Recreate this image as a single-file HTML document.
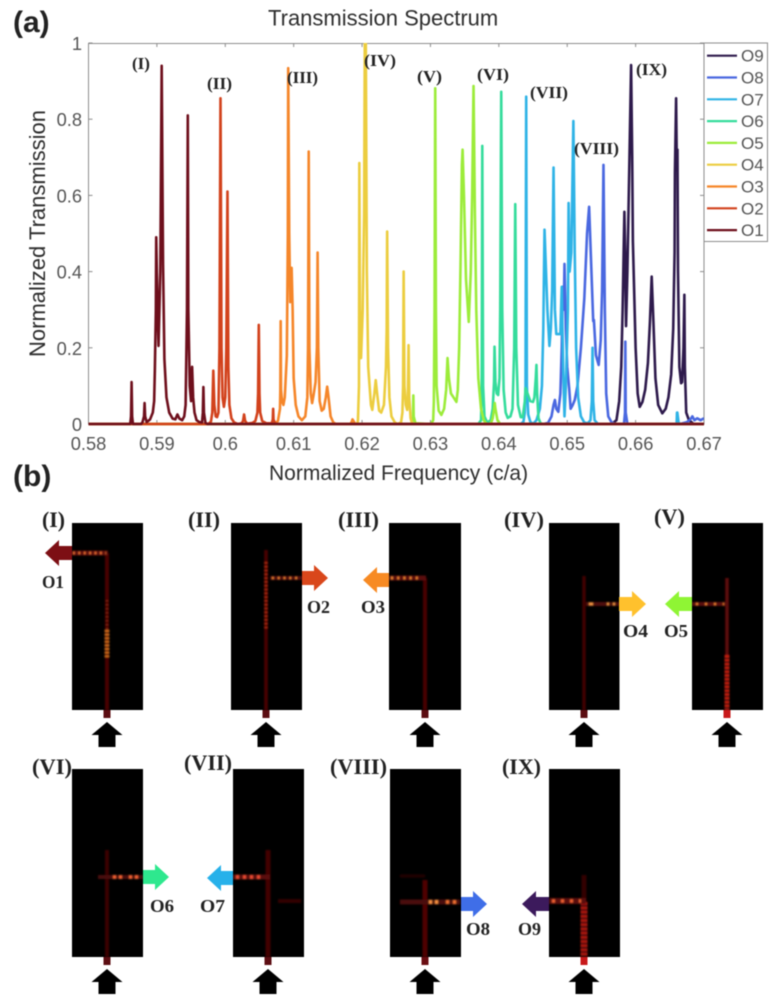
<!DOCTYPE html>
<html lang="en">
<head>
<meta charset="utf-8">
<title>Transmission Spectrum</title>
<style>
  html, body { margin: 0; padding: 0; background: #fff; }
  #figure { display: block; width: 771px; height: 1003px; filter: blur(0.45px); }
  .sans { font-family: "Liberation Sans", sans-serif; fill: #2e2e2e; }
  .tick { font-family: "Liberation Sans", sans-serif; fill: #555; font-size: 18.3px; }
  .serif { font-family: "Liberation Serif", serif; font-weight: bold; fill: #222; }
</style>
</head>
<body>
<svg id="figure" xmlns="http://www.w3.org/2000/svg" width="771" height="1003" viewBox="0 0 771 1003">
  <defs>
    <clipPath id="plot-clip"><rect x="88" y="43" width="616" height="383"/></clipPath>
    <filter id="glow" x="-40%" y="-40%" width="180%" height="180%"><feGaussianBlur stdDeviation="0.9"/></filter>
  </defs>

  <text class="sans" x="13" y="32" font-size="30" font-weight="bold" style="fill:#222">(a)</text>
  <text class="sans" x="268" y="25.5" font-size="22">Transmission Spectrum</text>
  <text class="sans" x="269" y="480" font-size="21">Normalized Frequency (c/a)</text>
  <text class="sans" transform="translate(45,357) rotate(-90)" font-size="22">Normalized Transmission</text>

  <g id="axes"></g>
  <g id="series" clip-path="url(#plot-clip)"></g>
  <g id="legend"></g>

  <g class="serif" font-size="17">
    <text x="132" y="69" textLength="18" lengthAdjust="spacingAndGlyphs">(I)</text>
    <text x="207" y="89" textLength="25" lengthAdjust="spacingAndGlyphs">(II)</text>
    <text x="287" y="83" textLength="31" lengthAdjust="spacingAndGlyphs">(III)</text>
    <text x="364" y="66" textLength="32" lengthAdjust="spacingAndGlyphs">(IV)</text>
    <text x="417" y="82" textLength="25" lengthAdjust="spacingAndGlyphs">(V)</text>
    <text x="477" y="80" textLength="32" lengthAdjust="spacingAndGlyphs">(VI)</text>
    <text x="530" y="98" textLength="38" lengthAdjust="spacingAndGlyphs">(VII)</text>
    <text x="574" y="154" textLength="45" lengthAdjust="spacingAndGlyphs">(VIII)</text>
    <text x="636" y="75" textLength="31" lengthAdjust="spacingAndGlyphs">(IX)</text>
  </g>

  <text class="sans" x="13" y="486" font-size="30" font-weight="bold" style="fill:#222">(b)</text>

  <g>
    <rect x="72" y="523" width="71" height="187" fill="#000"/>
    <g filter="url(#glow)" fill="none">
      <line x1="107" y1="553" x2="107" y2="710" stroke="#4a0505" stroke-width="4"/>
      <line x1="72" y1="553" x2="108" y2="553" stroke="#5a0808" stroke-width="5"/>
      <line x1="73" y1="553" x2="106" y2="553" stroke="#f07030" stroke-width="2.8" stroke-dasharray="1.8 3.6"/>
      <line x1="107" y1="630" x2="107" y2="658" stroke="#d06c1c" stroke-width="5" stroke-dasharray="2 1.6"/>
      <line x1="107" y1="600" x2="107" y2="630" stroke="#7a1a0a" stroke-width="3" stroke-dasharray="1.6 2.4"/>
    </g>
    <rect x="103.5" y="710" width="7" height="8" fill="#5c0d12"/>
  </g>
  <g>
    <rect x="231" y="523" width="71" height="187" fill="#000"/>
    <g filter="url(#glow)" fill="none">
      <line x1="266" y1="550" x2="266" y2="710" stroke="#4a0505" stroke-width="3.6"/>
      <line x1="266" y1="562" x2="266" y2="630" stroke="#a8260f" stroke-width="3.6" stroke-dasharray="1.8 2"/>
      <line x1="270" y1="578" x2="302" y2="578" stroke="#500808" stroke-width="4"/>
      <line x1="272" y1="578" x2="300" y2="578" stroke="#f08030" stroke-width="2.8" stroke-dasharray="1.8 4"/>
    </g>
    <rect x="262.5" y="710" width="7" height="8" fill="#5c0d12"/>
  </g>
  <g>
    <rect x="389" y="523" width="72" height="187" fill="#000"/>
    <g filter="url(#glow)" fill="none">
      <line x1="425" y1="578" x2="425" y2="710" stroke="#4a0505" stroke-width="4"/>
      <line x1="389" y1="578" x2="426" y2="578" stroke="#5a0808" stroke-width="5"/>
      <line x1="391" y1="578" x2="418" y2="578" stroke="#f08030" stroke-width="3" stroke-dasharray="2 4.2"/>
    </g>
    <rect x="421.5" y="710" width="7" height="8" fill="#5c0d12"/>
  </g>
  <g>
    <rect x="549" y="523" width="70.5" height="187" fill="#000"/>
    <g filter="url(#glow)" fill="none">
      <line x1="584" y1="576" x2="584" y2="710" stroke="#420505" stroke-width="3.4"/>
      <line x1="586" y1="604" x2="619" y2="604" stroke="#500808" stroke-width="4"/>
      <line x1="589" y1="604" x2="593" y2="604" stroke="#f09040" stroke-width="3"/>
      <line x1="607" y1="604" x2="617" y2="604" stroke="#f09040" stroke-width="3" stroke-dasharray="2 4"/>
    </g>
    <rect x="580.5" y="710" width="7" height="8" fill="#5c0d12"/>
  </g>
  <g>
    <rect x="692" y="523" width="71" height="187" fill="#000"/>
    <g filter="url(#glow)" fill="none">
      <line x1="727" y1="578" x2="727" y2="655" stroke="#5c0707" stroke-width="3.8"/>
      <line x1="727" y1="655" x2="727" y2="710" stroke="#c01a0f" stroke-width="5" stroke-dasharray="3 0.8"/>
      <line x1="692" y1="604" x2="728" y2="604" stroke="#5a0909" stroke-width="4"/>
      <line x1="696" y1="604" x2="724" y2="604" stroke="#f08030" stroke-width="2.8" stroke-dasharray="2 7"/>
    </g>
    <rect x="723.5" y="710" width="7" height="8" fill="#c8181a"/>
  </g>
  <g>
    <rect x="72" y="769" width="71" height="188" fill="#000"/>
    <g filter="url(#glow)" fill="none">
      <line x1="107" y1="850" x2="107" y2="957" stroke="#3a0505" stroke-width="4"/>
      <line x1="98" y1="877" x2="143" y2="877" stroke="#4a0707" stroke-width="4"/>
      <line x1="113" y1="877" x2="123" y2="877" stroke="#f06030" stroke-width="4" stroke-dasharray="3 3"/>
      <line x1="129" y1="877" x2="139" y2="877" stroke="#f06030" stroke-width="4" stroke-dasharray="3 3"/>
    </g>
    <rect x="103.5" y="957" width="7" height="8" fill="#5c0d12"/>
  </g>
  <g>
    <rect x="233" y="769" width="71" height="188" fill="#000"/>
    <g filter="url(#glow)" fill="none">
      <line x1="268" y1="850" x2="268" y2="957" stroke="#420606" stroke-width="5"/>
      <line x1="233" y1="877" x2="270" y2="877" stroke="#5a0909" stroke-width="5"/>
      <line x1="236" y1="877" x2="264" y2="877" stroke="#e84830" stroke-width="4" stroke-dasharray="3 4"/>
      <line x1="278" y1="901" x2="301" y2="901" stroke="#300505" stroke-width="4"/>
    </g>
    <rect x="264.5" y="957" width="7" height="8" fill="#5c0d12"/>
  </g>
  <g>
    <rect x="390" y="769" width="71" height="188" fill="#000"/>
    <g filter="url(#glow)" fill="none">
      <line x1="425" y1="880" x2="425" y2="957" stroke="#500606" stroke-width="5"/>
      <line x1="400" y1="876" x2="425" y2="876" stroke="#240404" stroke-width="3"/>
      <line x1="400" y1="902" x2="460" y2="902" stroke="#4c0707" stroke-width="5"/>
      <line x1="429" y1="902" x2="439" y2="902" stroke="#f89040" stroke-width="4" stroke-dasharray="3 3"/>
      <line x1="446" y1="902" x2="457" y2="902" stroke="#f07030" stroke-width="4" stroke-dasharray="3 4"/>
    </g>
    <rect x="421.5" y="957" width="7" height="8" fill="#6a0d12"/>
  </g>
  <g>
    <rect x="549" y="769" width="71" height="188" fill="#000"/>
    <g filter="url(#glow)" fill="none">
      <line x1="584" y1="875" x2="584" y2="902" stroke="#300505" stroke-width="5"/>
      <line x1="584" y1="902" x2="584" y2="957" stroke="#a8120c" stroke-width="7" stroke-dasharray="3.4 0.8"/>
      <line x1="549" y1="901" x2="586" y2="901" stroke="#5a0909" stroke-width="6"/>
      <line x1="552" y1="901" x2="581" y2="901" stroke="#f06030" stroke-width="3.6" stroke-dasharray="3 6"/>
    </g>
    <rect x="580.5" y="957" width="7" height="8" fill="#c8181a"/>
  </g>

  <g>
    <polygon fill="#7d0f14" points="45,553 59,540 59,546 72,546 72,560 59,560 59,566"/>
    <polygon fill="#d9471b" points="328,578 314,565 314,571 302,571 302,585 314,585 314,591"/>
    <polygon fill="#f78a23" points="363,580 377,567 377,573 389,573 389,587 377,587 377,593"/>
    <polygon fill="#ffc12d" points="646,604 632,591 632,597 619,597 619,611 632,611 632,617"/>
    <polygon fill="#8ff534" points="665,604 679,591 679,597 692,597 692,611 679,611 679,617"/>
    <polygon fill="#2ee88e" points="169,877 155,864 155,870 143,870 143,884 155,884 155,890"/>
    <polygon fill="#27b1ea" points="207,878 221,865 221,871 233,871 233,885 221,885 221,891"/>
    <polygon fill="#3f6ee8" points="487,904 473,891 473,897 461,897 461,911 473,911 473,917"/>
    <polygon fill="#3c1a5c" points="522,904 536,891 536,897 549,897 549,911 536,911 536,917"/>
  </g>

  <g fill="#000">
    <polygon transform="translate(107,722)" points="0,0 15.5,13 8.5,13 8.5,25 -8.5,25 -8.5,13 -15.5,13"/>
    <polygon transform="translate(266,722)" points="0,0 15.5,13 8.5,13 8.5,25 -8.5,25 -8.5,13 -15.5,13"/>
    <polygon transform="translate(425,722)" points="0,0 15.5,13 8.5,13 8.5,25 -8.5,25 -8.5,13 -15.5,13"/>
    <polygon transform="translate(584,722)" points="0,0 15.5,13 8.5,13 8.5,25 -8.5,25 -8.5,13 -15.5,13"/>
    <polygon transform="translate(727,722)" points="0,0 15.5,13 8.5,13 8.5,25 -8.5,25 -8.5,13 -15.5,13"/>
    <polygon transform="translate(107,969)" points="0,0 15.5,13 8.5,13 8.5,25 -8.5,25 -8.5,13 -15.5,13"/>
    <polygon transform="translate(268,969)" points="0,0 15.5,13 8.5,13 8.5,25 -8.5,25 -8.5,13 -15.5,13"/>
    <polygon transform="translate(425,969)" points="0,0 15.5,13 8.5,13 8.5,25 -8.5,25 -8.5,13 -15.5,13"/>
    <polygon transform="translate(584,969)" points="0,0 15.5,13 8.5,13 8.5,25 -8.5,25 -8.5,13 -15.5,13"/>
  </g>

  <g class="serif" font-size="22">
    <text x="42" y="527" textLength="23" lengthAdjust="spacingAndGlyphs">(I)</text>
    <text x="188" y="527" textLength="32" lengthAdjust="spacingAndGlyphs">(II)</text>
    <text x="338" y="527" textLength="41" lengthAdjust="spacingAndGlyphs">(III)</text>
    <text x="504" y="527" textLength="40" lengthAdjust="spacingAndGlyphs">(IV)</text>
    <text x="654" y="524" textLength="31" lengthAdjust="spacingAndGlyphs">(V)</text>
    <text x="32" y="774" textLength="40" lengthAdjust="spacingAndGlyphs">(VI)</text>
    <text x="184" y="770" textLength="48" lengthAdjust="spacingAndGlyphs">(VII)</text>
    <text x="330" y="774" textLength="57" lengthAdjust="spacingAndGlyphs">(VIII)</text>
    <text x="502" y="774" textLength="39" lengthAdjust="spacingAndGlyphs">(IX)</text>
  </g>
  <g class="serif" font-size="18">
    <text x="42" y="588" textLength="22" lengthAdjust="spacingAndGlyphs">O1</text>
    <text x="307" y="613" textLength="23" lengthAdjust="spacingAndGlyphs">O2</text>
    <text x="361" y="613" textLength="24" lengthAdjust="spacingAndGlyphs">O3</text>
    <text x="623" y="637" textLength="25" lengthAdjust="spacingAndGlyphs">O4</text>
    <text x="664" y="637" textLength="24" lengthAdjust="spacingAndGlyphs">O5</text>
    <text x="150" y="912" textLength="24" lengthAdjust="spacingAndGlyphs">O6</text>
    <text x="200" y="912" textLength="25" lengthAdjust="spacingAndGlyphs">O7</text>
    <text x="466" y="935" textLength="24" lengthAdjust="spacingAndGlyphs">O8</text>
    <text x="518" y="935" textLength="23" lengthAdjust="spacingAndGlyphs">O9</text>
  </g>
</svg>

<script>
// Tick values and labels
const xTicks = [0.58, 0.59, 0.6, 0.61, 0.62, 0.63, 0.64, 0.65, 0.66, 0.67];
const xTickLabels = ["0.58", "0.59", "0.6", "0.61", "0.62", "0.63", "0.64", "0.65", "0.66", "0.67"];
const yTicks = [0, 0.2, 0.4, 0.6, 0.8, 1];
const yTickLabels = ["0", "0.2", "0.4", "0.6", "0.8", "1"];

// Series as [frequency, transmission] pairs
const o1 = [[0.58,0],[0.5861,0],[0.58622,0.02],[0.5863,0.11],[0.58638,0.02],[0.5865,0],[0.5877,0],[0.5879,0.005],[0.58812,0.02],[0.5882,0.055],[0.58828,0.02],[0.5885,0.005],[0.589,0.012],[0.5894,0.03],[0.5896,0.06],[0.5897,0.14],[0.58985,0.3],[0.5899,0.49],[0.5901,0.3],[0.59024,0.205],[0.5905,0.4],[0.5907,0.94],[0.5909,0.42],[0.5911,0.17],[0.5914,0.07],[0.5918,0.03],[0.5923,0.014],[0.5927,0.012],[0.593,0.025],[0.5933,0.014],[0.5937,0.01],[0.594,0.02],[0.5942,0.05],[0.5944,0.3],[0.59452,0.81],[0.5946,0.3],[0.5948,0.1],[0.595,0.06],[0.59515,0.15],[0.5953,0.07],[0.5955,0.03],[0.5958,0.01],[0.5962,0.005],[0.5966,0.004],[0.59672,0.03],[0.5968,0.097],[0.59688,0.03],[0.5971,0.003],[0.5974,0],[0.67,0]];
const o2 = [[0.58,0],[0.5975,0],[0.5979,0.006],[0.5981,0.03],[0.59825,0.14],[0.5984,0.05],[0.5986,0.02],[0.5988,0.018],[0.599,0.03],[0.59915,0.2],[0.5993,0.855],[0.59945,0.2],[0.5996,0.07],[0.5998,0.045],[0.6,0.07],[0.60015,0.2],[0.60032,0.61],[0.60045,0.15],[0.6006,0.05],[0.6009,0.015],[0.6013,0.004],[0.6018,0],[0.6024,0.002],[0.6026,0.008],[0.60275,0.025],[0.6029,0.008],[0.6032,0.001],[0.604,0.003],[0.6044,0.008],[0.6047,0.03],[0.6048,0.08],[0.6049,0.26],[0.605,0.08],[0.6051,0.03],[0.6054,0.008],[0.606,0.002],[0.6068,0.002],[0.60695,0.012],[0.607,0.04],[0.60705,0.012],[0.6073,0.001],[0.608,0],[0.67,0]];
const o3 = [[0.58,0],[0.6072,0],[0.6077,0.008],[0.608,0.04],[0.60805,0.09],[0.6081,0.27],[0.60815,0.09],[0.6083,0.06],[0.6085,0.05],[0.6087,0.07],[0.609,0.18],[0.60915,0.5],[0.6092,0.934],[0.60935,0.5],[0.6095,0.32],[0.6097,0.41],[0.60985,0.3],[0.61,0.12],[0.6103,0.05],[0.6107,0.02],[0.6112,0.01],[0.6117,0.02],[0.612,0.07],[0.6121,0.2],[0.6122,0.715],[0.6123,0.2],[0.6125,0.08],[0.6127,0.055],[0.6129,0.075],[0.6132,0.11],[0.6134,0.2],[0.6135,0.45],[0.6136,0.2],[0.6138,0.06],[0.6141,0.035],[0.6144,0.04],[0.6147,0.07],[0.6149,0.098],[0.6151,0.07],[0.6154,0.02],[0.6158,0.004],[0.6162,0],[0.6183,0],[0.6185,0.006],[0.6186,0.012],[0.6188,0.006],[0.619,0],[0.67,0]];
const o4 = [[0.58,0],[0.6193,0],[0.6194,0.01],[0.61955,0.1],[0.6196,0.685],[0.6197,0.3],[0.61985,0.173],[0.6201,0.3],[0.6203,0.55],[0.6204,1],[0.62055,1],[0.6207,0.4],[0.6209,0.15],[0.6213,0.05],[0.6215,0.037],[0.6218,0.08],[0.622,0.115],[0.6222,0.08],[0.6225,0.035],[0.6228,0.03],[0.6232,0.05],[0.6235,0.15],[0.6236,0.25],[0.62367,0.505],[0.6238,0.2],[0.624,0.07],[0.6243,0.02],[0.6248,0.004],[0.6252,0],[0.6257,0.004],[0.6259,0.03],[0.626,0.1],[0.62608,0.4],[0.6262,0.1],[0.6264,0.05],[0.6266,0.037],[0.6267,0.07],[0.6268,0.207],[0.6269,0.07],[0.6271,0.015],[0.6273,0.002],[0.6277,0],[0.67,0]];
const o5 = [[0.58,0],[0.6273,0],[0.62745,0.02],[0.6275,0.075],[0.62755,0.02],[0.6278,0.002],[0.6301,0],[0.6304,0.01],[0.6305,0.06],[0.6306,0.3],[0.6307,0.881],[0.6308,0.3],[0.6309,0.1],[0.6312,0.035],[0.6316,0.024],[0.632,0.04],[0.6323,0.09],[0.6325,0.173],[0.6327,0.12],[0.633,0.08],[0.6333,0.072],[0.6338,0.058],[0.634,0.09],[0.6342,0.2],[0.6344,0.42],[0.6346,0.68],[0.6347,0.72],[0.6349,0.6],[0.6352,0.38],[0.6356,0.268],[0.6359,0.4],[0.6361,0.6],[0.6363,0.887],[0.6365,0.55],[0.6367,0.3],[0.637,0.12],[0.6374,0.04],[0.6378,0.01],[0.6382,0],[0.6388,0],[0.6391,0.015],[0.6393,0.04],[0.6394,0.055],[0.6395,0.04],[0.6398,0.01],[0.6402,0],[0.67,0]];
const o6 = [[0.58,0],[0.637,0],[0.6374,0.01],[0.6375,0.1],[0.63758,0.73],[0.6377,0.1],[0.6379,0.02],[0.6383,0.004],[0.6388,0.01],[0.6391,0.04],[0.6393,0.11],[0.63937,0.203],[0.6395,0.11],[0.6397,0.08],[0.6399,0.076],[0.6401,0.12],[0.6402,0.3],[0.64035,0.872],[0.6405,0.3],[0.6407,0.09],[0.641,0.03],[0.6413,0.016],[0.6417,0.02],[0.642,0.04],[0.64225,0.2],[0.6424,0.577],[0.64255,0.2],[0.6428,0.05],[0.6432,0.018],[0.6435,0.018],[0.6438,0.06],[0.6439,0.094],[0.6442,0.08],[0.6446,0.06],[0.645,0.058],[0.6452,0.07],[0.6454,0.12],[0.6455,0.155],[0.6456,0.08],[0.6458,0.015],[0.6461,0.002],[0.6465,0],[0.67,0]];
const o7 = [[0.58,0],[0.6432,0],[0.6436,0.006],[0.6438,0.03],[0.6439,0.1],[0.644,0.859],[0.6441,0.1],[0.6443,0.025],[0.6446,0.006],[0.645,0],[0.6455,0.01],[0.646,0.04],[0.6463,0.1],[0.6465,0.25],[0.64668,0.51],[0.6469,0.4],[0.6471,0.3],[0.6474,0.205],[0.6476,0.25],[0.6478,0.35],[0.648,0.673],[0.6482,0.3],[0.6484,0.236],[0.649,0.236],[0.6492,0.36],[0.6494,0.15],[0.6496,0.02],[0.6498,0.1],[0.6501,0.3],[0.6502,0.58],[0.65035,0.4],[0.6506,0.45],[0.6509,0.795],[0.6511,0.45],[0.6513,0.2],[0.6516,0.07],[0.652,0.02],[0.6525,0.004],[0.653,0.002],[0.6534,0.01],[0.6536,0.06],[0.6537,0.2],[0.6538,0.06],[0.654,0.01],[0.6545,0],[0.6658,0],[0.666,0.002],[0.66605,0.03],[0.6661,0.03],[0.6663,0.002],[0.6668,0],[0.67,0]];
const o8 = [[0.58,0],[0.6465,0],[0.6472,0.003],[0.6477,0.02],[0.648,0.05],[0.6482,0.063],[0.6484,0.04],[0.6487,0.032],[0.649,0.08],[0.6492,0.2],[0.64935,0.36],[0.6495,0.3],[0.6496,0.42],[0.6498,0.25],[0.65,0.15],[0.6503,0.09],[0.6505,0.04],[0.6508,0.05],[0.6511,0.063],[0.6515,0.1],[0.652,0.2],[0.6525,0.33],[0.6529,0.5],[0.6532,0.57],[0.6535,0.42],[0.6538,0.27],[0.6539,0.273],[0.6542,0.18],[0.6546,0.155],[0.6549,0.22],[0.6551,0.35],[0.6553,0.68],[0.6555,0.3],[0.6557,0.08],[0.656,0.02],[0.6565,0.004],[0.657,0],[0.6583,0],[0.65845,0.03],[0.6585,0.216],[0.65855,0.03],[0.6588,0],[0.6665,0],[0.6675,0.005],[0.668,0.012],[0.6683,0.02],[0.6686,0.01],[0.669,0.015],[0.6695,0.01],[0.67,0.015]];
const o9 = [[0.58,0],[0.6565,0],[0.6572,0.01],[0.6576,0.06],[0.6579,0.15],[0.6581,0.3],[0.65825,0.45],[0.65836,0.557],[0.6585,0.42],[0.6586,0.257],[0.6588,0.4],[0.6591,0.7],[0.65934,0.942],[0.6595,0.7],[0.6596,0.48],[0.66,0.2],[0.6603,0.08],[0.6606,0.045],[0.661,0.058],[0.6614,0.09],[0.6618,0.16],[0.6621,0.27],[0.66235,0.387],[0.6626,0.27],[0.6629,0.12],[0.6633,0.05],[0.6639,0.028],[0.6644,0.04],[0.6648,0.07],[0.6652,0.13],[0.6655,0.25],[0.6657,0.45],[0.66575,0.66],[0.66592,0.855],[0.666,0.72],[0.66612,0.72],[0.6662,0.4],[0.6664,0.15],[0.66665,0.107],[0.6668,0.11],[0.667,0.2],[0.66713,0.339],[0.6672,0.15],[0.6674,0.03],[0.6678,0.01],[0.6685,0],[0.67,0]];

const seriesNames = ["O9", "O8", "O7", "O6", "O5", "O4", "O3", "O2", "O1"];
const seriesValues = [o9, o8, o7, o6, o5, o4, o3, o2, o1];
const seriesColors = ["#2e1a4c", "#4a68e0", "#2fb3e6", "#35dc9c", "#9cec3a", "#eccd3f", "#f5862a", "#d2421c", "#6e0f1c"];

const SVG_NS = "http://www.w3.org/2000/svg";
const plot = { left: 88.5, right: 704, top: 43, bottom: 424 };
const xDomain = [xTicks[0], xTicks[xTicks.length - 1]];
const yDomain = [yTicks[0], yTicks[yTicks.length - 1]];
function xScale(v) { return plot.left + (v - xDomain[0]) / (xDomain[1] - xDomain[0]) * (plot.right - plot.left); }
function yScale(v) { return plot.bottom - (v - yDomain[0]) / (yDomain[1] - yDomain[0]) * (plot.bottom - plot.top); }

function make(tag, attrs, parent) {
  const el = document.createElementNS(SVG_NS, tag);
  for (const k in attrs) el.setAttribute(k, attrs[k]);
  parent.appendChild(el);
  return el;
}

const axes = document.getElementById("axes");
const seriesGroup = document.getElementById("series");
const legend = document.getElementById("legend");

const frame = make("rect", { x: plot.left, y: plot.top + 0.5, width: plot.right - plot.left, height: plot.bottom - plot.top - 0.5, fill: "none", stroke: "#8c8c8c", "stroke-width": 1 }, axes);



xTicks.forEach(function (t, i) {
  const x = xScale(t);
  const bottomTick = make("line", { x1: x, x2: x, y1: plot.bottom, y2: plot.bottom - 4, stroke: "#8c8c8c" }, axes);
  
  
  const topTick = make("line", { x1: x, x2: x, y1: plot.top, y2: plot.top + 4, stroke: "#8c8c8c" }, axes);
  
  
  const label = make("text", { x: x, y: 450, "text-anchor": "middle", class: "tick" }, axes);
  
  
  label.textContent = xTickLabels[i];
});

yTicks.forEach(function (t, i) {
  const y = yScale(t);
  const leftTick = make("line", { x1: plot.left, x2: plot.left + 4, y1: y, y2: y, stroke: "#8c8c8c" }, axes);
  
  
  const rightTick = make("line", { x1: plot.right, x2: plot.right - 4, y1: y, y2: y, stroke: "#8c8c8c" }, axes);
  
  
  const label = make("text", { x: 82, y: y + 7, "text-anchor": "end", class: "tick" }, axes);
  
  
  label.textContent = yTickLabels[i];
});

seriesNames.forEach(function (name, i) {
  const d = seriesValues[i].map(function (p, j) {
    return (j ? "L" : "M") + xScale(p[0]).toFixed(2) + " " + yScale(p[1]).toFixed(2);
  }).join("");
  const line = make("path", { d: d, fill: "none", stroke: seriesColors[i], "stroke-width": 2.6, "stroke-linejoin": "round" }, seriesGroup);
  
  
});

const legendBox = make("rect", { x: 704, y: 43, width: 63.5, height: 198.5, fill: "#fff", stroke: "#8c8c8c", "stroke-width": 1 }, legend);



seriesNames.forEach(function (name, i) {
  const y = 55.7 + i * 21.8;
  const swatch = make("line", { x1: 707, x2: 737, y1: y, y2: y, stroke: seriesColors[i], "stroke-width": 2.2 }, legend);
  
  
  const label = make("text", { x: 741, y: y + 6, class: "tick", style: "font-size:17px" }, legend);
  
  
  label.textContent = name;
});
</script>
</body>
</html>
